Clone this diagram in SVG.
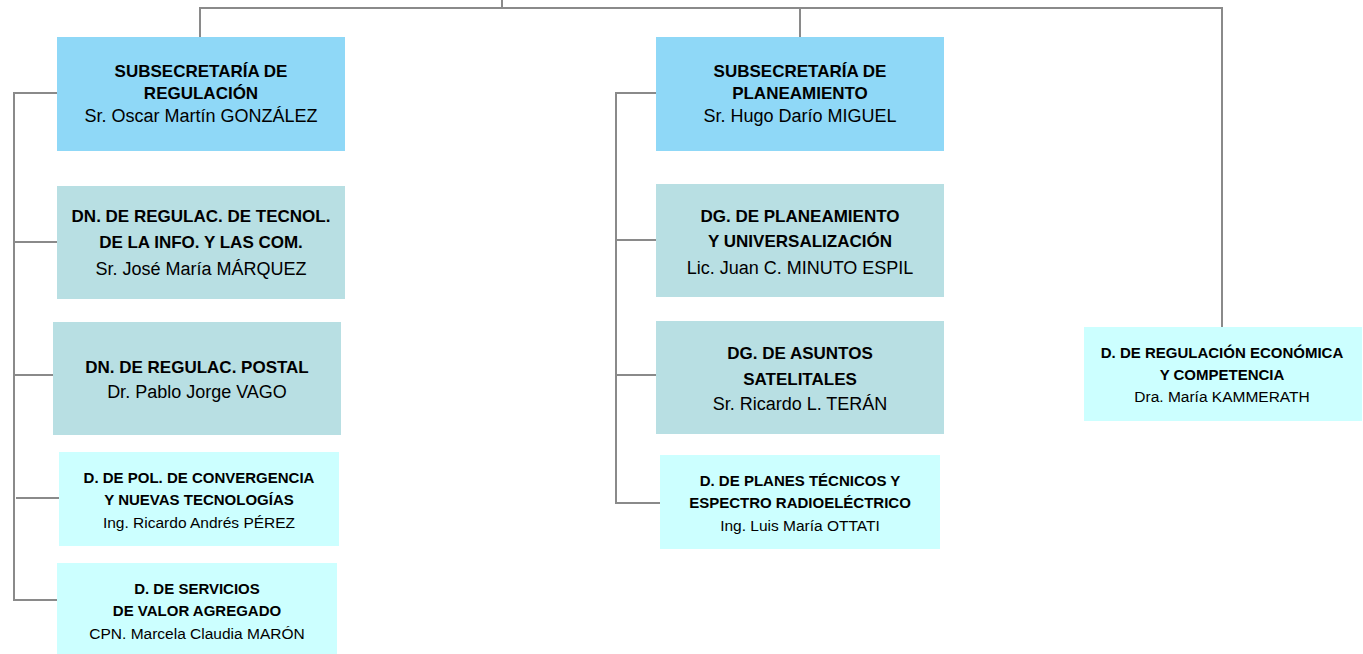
<svg xmlns="http://www.w3.org/2000/svg" width="1363" height="654" viewBox="0 0 1363 654">
<style>
.a{fill:#8fd8f7}.b{fill:#b8dfe3}.c{fill:#ccffff}
.l{fill:none;stroke:#8a8a8a;stroke-width:2}
text{font-family:"Liberation Sans",Arial,sans-serif;fill:#000;text-anchor:middle}
.t{font-weight:bold;font-size:17px}.n{font-size:18px}
.ts{font-weight:bold;font-size:15px}.ns{font-size:15.5px}
</style>
<rect width="1363" height="654" fill="#fff"/>
<g id="connectors">
<path class="l" d="M502 0V8M200 37V8H1222V327M800 8V37"/>
<path class="l" d="M57 93H14V600H57M14 242H57M14 375H53M16 498H59"/>
<path class="l" d="M656 93H616V503H660M616 240H656M616 375H658"/>
</g>
<g id="sub-regulacion"><rect class="a" x="57" y="37" width="288" height="114"/>
<text class="t" x="201" y="77">SUBSECRETARÍA DE</text><text class="t" x="201" y="99">REGULACIÓN</text><text class="n" x="201" y="122">Sr. Oscar Martín GONZÁLEZ</text></g>
<g id="dn-tic"><rect class="b" x="57" y="186" width="288" height="113"/>
<text class="t" x="201" y="222">DN. DE REGULAC. DE TECNOL.</text><text class="t" x="201" y="248">DE LA INFO. Y LAS COM.</text><text class="n" x="201" y="275">Sr. José María MÁRQUEZ</text></g>
<g id="dn-postal"><rect class="b" x="53" y="322" width="288" height="113"/>
<text class="t" x="197" y="373">DN. DE REGULAC. POSTAL</text><text class="n" x="197" y="398">Dr. Pablo Jorge VAGO</text></g>
<g id="d-convergencia"><rect class="c" x="59" y="452" width="280" height="94"/>
<text class="ts" x="199" y="483">D. DE POL. DE CONVERGENCIA</text><text class="ts" x="199" y="505">Y NUEVAS TECNOLOGÍAS</text><text class="ns" x="199" y="528">Ing. Ricardo Andrés PÉREZ</text></g>
<g id="d-servicios"><rect class="c" x="57" y="563" width="280" height="91"/>
<text class="ts" x="197" y="594">D. DE SERVICIOS</text><text class="ts" x="197" y="616">DE VALOR AGREGADO</text><text class="ns" x="197" y="639">CPN. Marcela Claudia MARÓN</text></g>
<g id="sub-planeamiento"><rect class="a" x="656" y="37" width="288" height="114"/>
<text class="t" x="800" y="77">SUBSECRETARÍA DE</text><text class="t" x="800" y="99">PLANEAMIENTO</text><text class="n" x="800" y="122">Sr. Hugo Darío MIGUEL</text></g>
<g id="dg-planeamiento"><rect class="b" x="656" y="184" width="288" height="113"/>
<text class="t" x="800" y="222">DG. DE PLANEAMIENTO</text><text class="t" x="800" y="247">Y UNIVERSALIZACIÓN</text><text class="n" x="800" y="274">Lic. Juan C. MINUTO ESPIL</text></g>
<g id="dg-satelitales"><rect class="b" x="656" y="321" width="288" height="113"/>
<text class="t" x="800" y="359">DG. DE ASUNTOS</text><text class="t" x="800" y="385">SATELITALES</text><text class="n" x="800" y="410">Sr. Ricardo L. TERÁN</text></g>
<g id="d-planes"><rect class="c" x="660" y="455" width="280" height="94"/>
<text class="ts" x="800" y="486">D. DE PLANES TÉCNICOS Y</text><text class="ts" x="800" y="508">ESPECTRO RADIOELÉCTRICO</text><text class="ns" x="800" y="531">Ing. Luis María OTTATI</text></g>
<g id="d-economica"><rect class="c" x="1084" y="327" width="278" height="94"/>
<text class="ts" x="1222" y="358">D. DE REGULACIÓN ECONÓMICA</text><text class="ts" x="1222" y="380">Y COMPETENCIA</text><text class="ns" x="1222" y="402">Dra. María KAMMERATH</text></g>
</svg>
